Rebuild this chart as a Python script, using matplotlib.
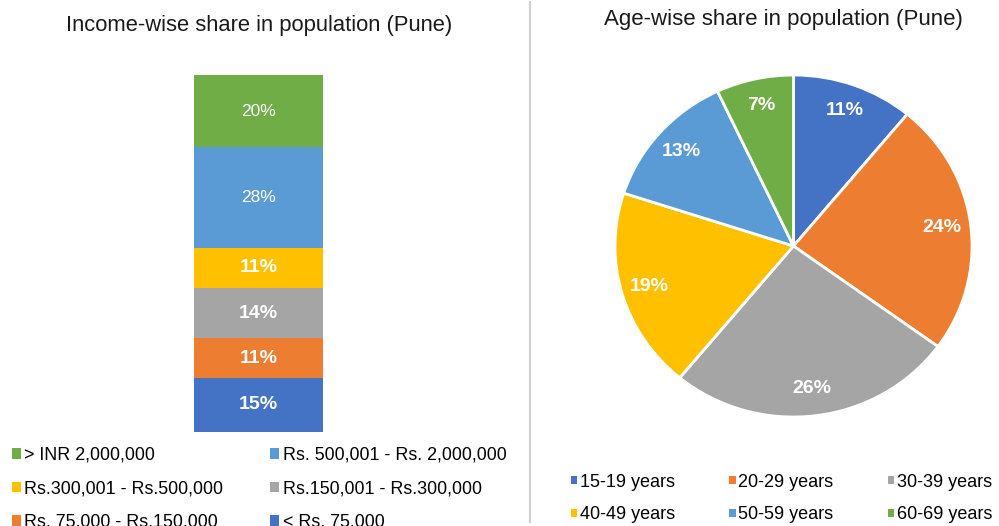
import matplotlib.pyplot as plt
from matplotlib.patches import Patch
from matplotlib.lines import Line2D

plt.rcParams['font.family'] = ['Liberation Sans', 'DejaVu Sans']

# --- data ---
income_labels = ['< Rs. 75,000', 'Rs. 75,000 - Rs.150,000', 'Rs.150,001 - Rs.300,000',
                 'Rs.300,001 - Rs.500,000', 'Rs. 500,001 - Rs. 2,000,000', '> INR 2,000,000']
income_share = [15, 11, 14, 11, 28, 20]
income_colors = ['#4472C4', '#ED7D31', '#A5A5A5', '#FFC000', '#5B9BD5', '#70AD47']
income_bold = [True, True, True, True, False, False]

age_labels = ['15-19 years', '20-29 years', '30-39 years', '40-49 years', '50-59 years', '60-69 years']
age_share = [11, 24, 26, 19, 13, 7]
age_colors = ['#4472C4', '#ED7D31', '#A5A5A5', '#FFC000', '#5B9BD5', '#70AD47']

W, H = 999, 526
fig = plt.figure(figsize=(W / 100, H / 100), dpi=100)


def px_axes(x0, y0, x1, y1):
    # axes from pixel box (top-left origin)
    return fig.add_axes([x0 / W, (H - y1) / H, (x1 - x0) / W, (y1 - y0) / H])


# --- left: stacked bar ---
ax1 = px_axes(194, 75, 323, 432)
bottom = 0
for val, col, bold in zip(income_share, income_colors, income_bold):
    ax1.bar(0, val, width=1, bottom=bottom, color=col, edgecolor='none')
    ax1.text(0, bottom + val / 2, f'{val}%', ha='center', va='center', color='white',
             fontsize=14 if bold else 12.5, fontweight='bold' if bold else 'normal')
    bottom += val
ax1.set_xlim(-0.5, 0.5)
ax1.set_ylim(0, sum(income_share))
ax1.axis('off')

fig.text(259.5 / W, 1 - 26 / H, 'Income-wise share in population (Pune)',
         ha='center', va='center', fontsize=15.8, color='#1a1a1a')

# legend is row-major in the picture; matplotlib fills columns first
order = [5, 3, 1, 4, 2, 0]
handles = [Patch(facecolor=income_colors[i], edgecolor='none') for i in order]
fig.legend(handles, [income_labels[i] for i in order], ncol=2,
           loc='upper left', bbox_to_anchor=(3 / W, 1 - 438 / H),
           frameon=False, fontsize=12.9, handlelength=0.5, handleheight=0.5,
           handletextpad=0.2, columnspacing=2.6, labelspacing=0.92, borderpad=0)

# --- right: pie ---
lim = 1.02
rx, ry = 178.5, 171
cx, cy = 793.5, 246
ax2 = px_axes(cx - rx * lim, cy - ry * lim, cx + rx * lim, cy + ry * lim)
ax2.pie(age_share, colors=age_colors, startangle=90, counterclock=False,
        wedgeprops=dict(edgecolor='white', linewidth=2),
        autopct=lambda p: f'{p:.0f}%', pctdistance=0.84,
        textprops=dict(color='white', fontsize=14, fontweight='bold'))
ax2.set_aspect('auto')
ax2.set_xlim(-lim, lim)
ax2.set_ylim(-lim, lim)

fig.text(783 / W, 1 - 20 / H, 'Age-wise share in population (Pune)',
         ha='center', va='center', fontsize=16, color='#1a1a1a')

order2 = [0, 3, 1, 4, 2, 5]
handles2 = [Patch(facecolor=age_colors[i], edgecolor='none') for i in order2]
fig.legend(handles2, [age_labels[i] for i in order2], ncol=3,
           loc='upper left', bbox_to_anchor=(562 / W, 1 - 464.5 / H),
           frameon=False, fontsize=13, handlelength=0.35, handleheight=0.35,
           handletextpad=0.15, columnspacing=3.0, labelspacing=0.88, borderpad=0)

# separator line
fig.add_artist(Line2D([530 / W, 530 / W], [1 - 522 / H, 1 - 2 / H],
                      color='#d0d0d0', linewidth=1.5))

fig.savefig('out.png', dpi=100)
